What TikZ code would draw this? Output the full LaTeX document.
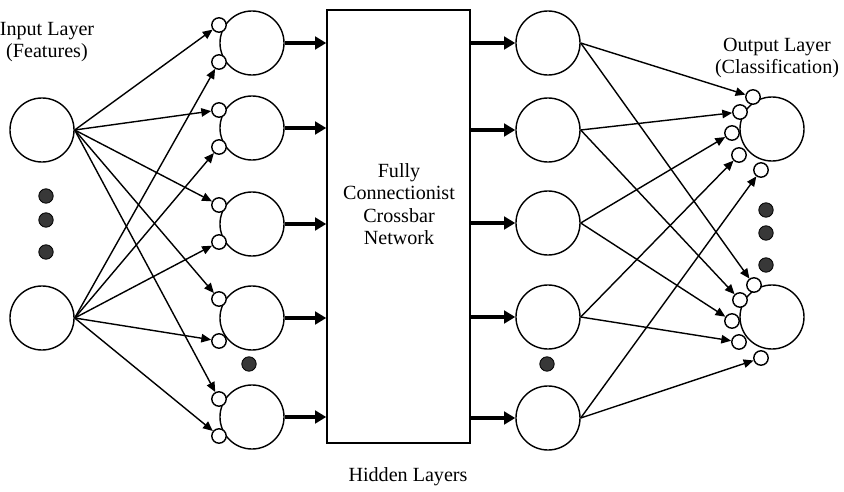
\documentclass[tikz,border=0pt]{standalone}
\usepackage{fontspec}
\setmainfont{Liberation Serif}
\usetikzlibrary{arrows.meta}

\begin{document}
\begin{tikzpicture}[x=0.025cm,y=-0.025cm]
\tikzstyle{neuron} = [circle,fill=white,draw=black,line width=1pt,minimum size=1.6cm,inner sep=0pt]
\tikzstyle{syn} = [circle,fill=white,draw=black,line width=1pt,minimum size=0.36cm,inner sep=0pt]
\tikzstyle{dot} = [circle,fill=black!78,draw=black,line width=0.6pt,minimum size=0.36cm,inner sep=0pt]
\tikzstyle{edge} = [line width=1pt,-{Triangle[length=7pt,width=6pt]}]
\tikzstyle{bus} = [line width=2.2pt,-{Triangle[length=8pt,width=9pt]}]
\tikzstyle{lbl} = [font=\fontsize{14.3}{16}\selectfont,align=center]
\useasboundingbox (0,0) rectangle (844,492);

% labels
\node[lbl] (inlabel) at (47,42) {Input Layer\\(Features)};
\node[lbl] (outlabel) at (777,58) {Output Layer\\(Classification)};
\node[lbl] (hidlabel) at (408,477) {Hidden Layers};

% input layer
\node[neuron] (in1) at (42,130) {};
\node[neuron] (in2) at (42,318) {};
\node[dot] (ind1) at (46,196) {};
\node[dot] (ind2) at (46,220) {};
\node[dot] (ind3) at (46,252) {};

% crossbar block
\node[draw,line width=1pt,minimum width=3.575cm,minimum height=10.825cm,inner sep=0pt] (net) at (398.5,226.5) {};
\node[lbl] (netlabel) at (399,204) {Fully\\Connectionist\\Crossbar\\Network};

% hidden layer, left column with its two inputs each
\node[neuron] (hl1) at (252,43) {};
\node[neuron] (hl2) at (252,128) {};
\node[neuron] (hl3) at (252,224) {};
\node[neuron] (hl4) at (252,318) {};
\node[neuron] (hl5) at (252,417) {};
\node[syn] (hl1a) at (219,25) {};
\node[syn] (hl1b) at (219,62) {};
\node[syn] (hl2a) at (219,110) {};
\node[syn] (hl2b) at (219,147) {};
\node[syn] (hl3a) at (219,205) {};
\node[syn] (hl3b) at (219,242) {};
\node[syn] (hl4a) at (219,299) {};
\node[syn] (hl4b) at (219,341) {};
\node[syn] (hl5a) at (219,399) {};
\node[syn] (hl5b) at (219,436) {};
\node[dot] (hld) at (249,364) {};

% hidden layer, right column
\node[neuron] (hr1) at (548,43) {};
\node[neuron] (hr2) at (548,130) {};
\node[neuron] (hr3) at (548,223) {};
\node[neuron] (hr4) at (548,317) {};
\node[neuron] (hr5) at (548,418) {};
\node[dot] (hrd) at (547,364) {};

% output layer
\node[neuron] (out1) at (772,129) {};
\node[neuron] (out2) at (772,317) {};
\node[syn] (out1a) at (753,97) {};
\node[syn] (out1b) at (740,112) {};
\node[syn] (out1c) at (732,133) {};
\node[syn] (out1d) at (739,155) {};
\node[syn] (out1e) at (761,170) {};
\node[syn] (out2a) at (754,285) {};
\node[syn] (out2b) at (740,300) {};
\node[syn] (out2c) at (732,321) {};
\node[syn] (out2d) at (739,342) {};
\node[syn] (out2e) at (761,358) {};
\node[dot] (outd1) at (766,210) {};
\node[dot] (outd2) at (766,233) {};
\node[dot] (outd3) at (766,265) {};

% input -> hidden
\draw[edge] (in1.east)--(hl1a);
\draw[edge] (in1.east)--(hl2a);
\draw[edge] (in1.east)--(hl3a);
\draw[edge] (in1.east)--(hl4a);
\draw[edge] (in1.east)--(hl5a);
\draw[edge] (in2.east)--(hl1b);
\draw[edge] (in2.east)--(hl2b);
\draw[edge] (in2.east)--(hl3b);
\draw[edge] (in2.east)--(hl4b);
\draw[edge] (in2.east)--(hl5b);

% through the crossbar
\draw[bus] (hl1)--(hl1 -| net.west);
\draw[bus] (hl2)--(hl2 -| net.west);
\draw[bus] (hl3)--(hl3 -| net.west);
\draw[bus] (hl4)--(hl4 -| net.west);
\draw[bus] (hl5)--(hl5 -| net.west);
\draw[bus] (net.east |- hr1)--(hr1);
\draw[bus] (net.east |- hr2)--(hr2);
\draw[bus] (net.east |- hr3)--(hr3);
\draw[bus] (net.east |- hr4)--(hr4);
\draw[bus] (net.east |- hr5)--(hr5);

% hidden -> output
\draw[edge] (hr1.east)--(out1a);
\draw[edge] (hr1.east)--(out2a);
\draw[edge] (hr2.east)--(out1b);
\draw[edge] (hr2.east)--(out2b);
\draw[edge] (hr3.east)--(out1c);
\draw[edge] (hr3.east)--(out2c);
\draw[edge] (hr4.east)--(out1d);
\draw[edge] (hr4.east)--(out2d);
\draw[edge] (hr5.east)--(out1e);
\draw[edge] (hr5.east)--(out2e);
\end{tikzpicture}
\end{document}
